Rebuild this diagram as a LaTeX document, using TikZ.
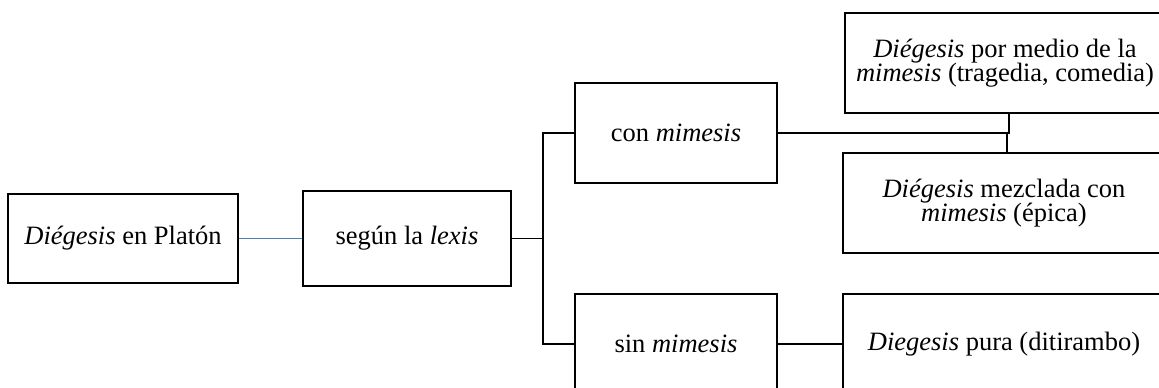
\documentclass[tikz,border=0pt]{standalone}
\usepackage{fontspec}
\setmainfont{Liberation Serif}
\definecolor{linkblue}{HTML}{4A7EBB}
\begin{document}
\begin{tikzpicture}[x=1pt,y=-1pt,
  box/.style={draw, line width=1.9pt, inner sep=0pt, align=center,
              font=\fontsize{26.5pt}{24.5pt}\selectfont},
  link/.style={line width=1.9pt},
  thinlink/.style={line width=1.1pt},
  bluelink/.style={line width=1.4pt, draw=linkblue}]
\useasboundingbox (0,0) rectangle (1159,388);
\clip (0,0) rectangle (1159,388);

% boxes
\node[box, minimum width=230pt, minimum height=89pt]  (platon) at (123,238.5) {\textit{Diégesis} en Platón};
\node[box, minimum width=208pt, minimum height=95pt]  (lexis)  at (407,238.5) {según la \textit{lexis}};
\node[box, minimum width=202pt, minimum height=100pt] (con)    at (676,133)   {con \textit{mimesis}};
\node[box, minimum width=202pt, minimum height=100pt] (sin)    at (676,344)   {sin \textit{mimesis}};
\node[box, minimum width=320pt, minimum height=100pt] (medio)  at (1005,63)   {\textit{Diégesis} por medio de la\\\textit{mimesis} (tragedia, comedia)};
\node[box, minimum width=322pt, minimum height=100pt] (mezcla) at (1004,203)  {\textit{Diégesis} mezclada con\\\textit{mimesis} (épica)};
\node[box, minimum width=322pt, minimum height=100pt] (pura)   at (1004,344)  {\textit{Diegesis} pura (ditirambo)};

% connectors
\coordinate (fork) at (543,238.5);
\coordinate (upj)  at (1009,133);
\coordinate (loj)  at (1007,133);

\draw[bluelink] (platon.east) -- (lexis.west);
\draw[link] (lexis.east) -- (fork);
\draw[link] (con.west) -| (fork);
\draw[link] (sin.west) -| (fork);
\draw[link] (con.east) -- (upj) -- (upj |- medio.south);
\draw[thinlink] (loj) -- (loj |- mezcla.north);
\draw[link] (sin.east) -- (pura.west);
\end{tikzpicture}
\end{document}
